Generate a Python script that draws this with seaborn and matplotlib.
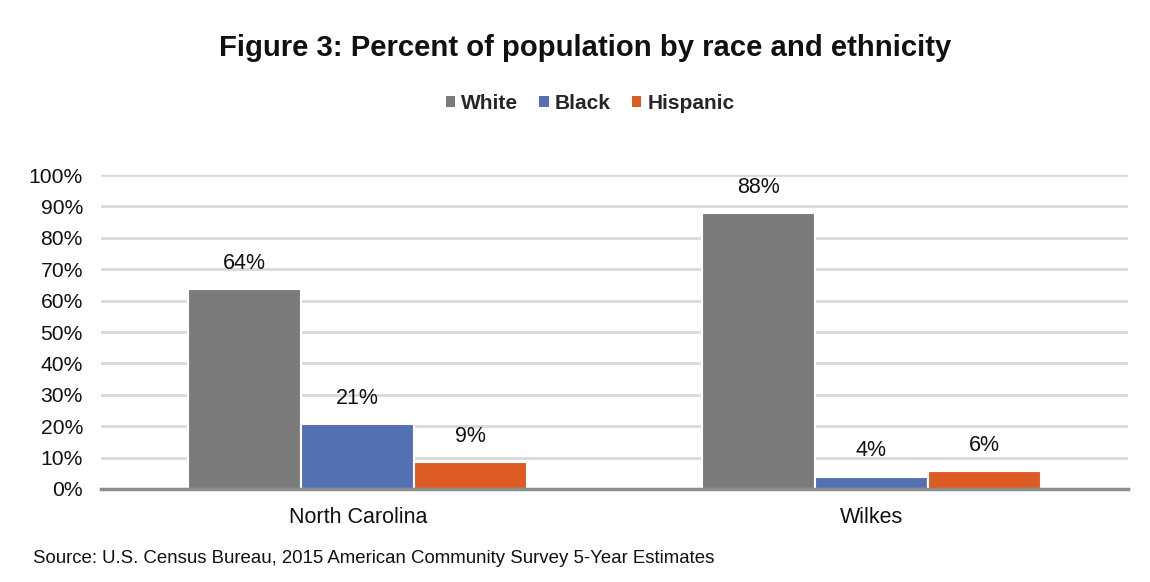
import matplotlib
matplotlib.use("Agg")
import matplotlib.pyplot as plt
import seaborn as sns
import pandas as pd
from matplotlib.ticker import PercentFormatter
from matplotlib.patches import Patch

areas = ["North Carolina", "Wilkes"]
groups = ["White", "Black", "Hispanic"]
white = [63.7, 87.8]
black = [20.6, 3.9]
hispanic = [8.6, 5.6]
colors = ["#7b7b7b", "#5370b2", "#dd5c24"]

df = pd.DataFrame({
    "area": areas * 3,
    "group": [g for g in groups for _ in areas],
    "value": white + black + hispanic,
})

sns.set_theme(style="white")
plt.rcParams["font.family"] = ["Liberation Sans", "DejaVu Sans"]

fig = plt.figure(figsize=(11.5, 5.82), dpi=100)
ax = fig.add_axes([0.0878, 0.1598, 0.8932, 0.5395])

sns.barplot(data=df, x="area", y="value", hue="group", hue_order=groups,
            order=areas, palette=colors, width=0.66, ax=ax,
            edgecolor="white", linewidth=1.5, legend=False, saturation=1)

ax.set_ylim(0, 100)
ax.set_yticks(range(0, 101, 10))
ax.yaxis.set_major_formatter(PercentFormatter(decimals=0))
ax.grid(axis="y", color="#d9d9d9", linewidth=2)
ax.set_axisbelow(True)
for s in ["top", "right", "left"]:
    ax.spines[s].set_visible(False)
ax.spines["bottom"].set_color("#8c8c8c")
ax.spines["bottom"].set_linewidth(2.5)
ax.tick_params(axis="y", length=0, labelsize=15.2, pad=13, colors="#111111")
ax.tick_params(axis="x", length=0, labelsize=15.5, pad=13, colors="#111111")
ax.set_xlabel("")
ax.set_ylabel("")

for cont in ax.containers:
    ax.bar_label(cont, labels=[f"{round(v.get_height()):.0f}%" for v in cont],
                 padding=11, fontsize=15.5, color="#111111")

fig.text(0.509, 0.918, "Figure 3: Percent of population by race and ethnicity",
         ha="center", va="center", fontsize=21.1, fontweight="bold", color="#111111")

handles = [Patch(facecolor=c, edgecolor="none") for c in colors]
fig.legend(handles, groups, loc="center", bbox_to_anchor=(0.513, 0.822), ncol=3,
           frameon=False, prop={"weight": "bold", "size": 15},
           handlelength=0.45, handleheight=0.45, handletextpad=0.3, columnspacing=1.0)

fig.text(0.029, 0.04, "Source: U.S. Census Bureau, 2015 American Community Survey 5-Year Estimates",
         ha="left", va="center", fontsize=13.4, color="#111111")

fig.savefig("out.png", dpi=100, facecolor="white")
